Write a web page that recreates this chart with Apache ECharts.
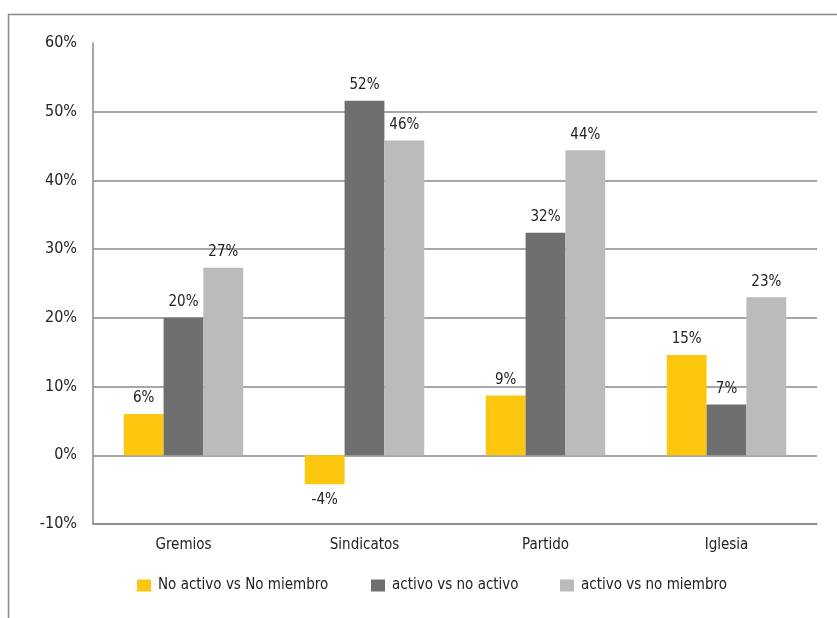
<!DOCTYPE html>
<html>
<head>
<meta charset="utf-8">
<script src="https://cdn.jsdelivr.net/npm/echarts@6/dist/echarts.min.js"></script>
<style>
  html, body { margin: 0; padding: 0; background: #fff; }
  #chart { width: 837px; height: 618px; }
</style>
</head>
<body>
<div id="chart"></div>
<script>
var categories = ['Gremios', 'Sindicatos', 'Partido', 'Iglesia'];
var seriesNames = ['No activo vs No miembro', 'activo vs no activo', 'activo vs no miembro'];
var noActivoVsNoMiembro = [6.0, -4.2, 8.7, 14.6];
var activoVsNoActivo = [20.0, 51.6, 32.4, 7.4];
var activoVsNoMiembro = [27.3, 45.8, 44.4, 23.0];
var colors = ['#fcc70e', '#6f6f6f', '#bbbbbb'];

var FONT = '"DejaVu Sans Condensed", "Liberation Sans Narrow", sans-serif';

var chart = echarts.init(document.getElementById('chart'));

function makeSeries(name, data, color) {
    return {
        name: name,
        type: 'bar',
        barGap: '0%',
        barCategoryGap: '34%',
        itemStyle: { color: color },
        label: {
            show: true,
            position: 'top',
            distance: 8,
            fontFamily: FONT,
            fontSize: 15,
            color: '#222',
            formatter: function (p) { return Math.round(p.value) + '%'; }
        },
        // negative bar label goes below the bar
        data: data.map(function (v) {
            if (v < 0) return { value: v, label: { position: 'bottom' } };
            return v;
        })
    };
}

var series = [
    makeSeries(seriesNames[0], noActivoVsNoMiembro, colors[0]),
    makeSeries(seriesNames[1], activoVsNoActivo, colors[1]),
    makeSeries(seriesNames[2], activoVsNoMiembro, colors[2])
];

var legendLefts = [132, 366, 555];
var legends = seriesNames.map(function (n, i) {
    return {
        data: [n],
        left: legendLefts[i],
        top: 573,
        itemWidth: 14,
        itemHeight: 12,
        itemGap: 0,
        icon: 'rect',
        textStyle: { fontFamily: FONT, fontSize: 15, color: '#222', padding: [0, 0, 0, 2] }
    };
});

var option = {
    animation: false,
    backgroundColor: '#fff',
    textStyle: { fontFamily: FONT },
    graphic: [{
        type: 'polyline',
        shape: { points: [[8.5, 618], [8.5, 14.5], [837, 14.5]] },
        style: { stroke: '#8a8a8a', lineWidth: 1.5, fill: null }
    }],
    legend: legends,
    grid: { left: 93, right: 20, top: 43, bottom: 94 },
    xAxis: {
        type: 'category',
        data: categories,
        position: 'bottom',
        axisLine: { onZero: false, lineStyle: { color: '#8a8a8a', width: 1.5 } },
        axisTick: { show: false },
        axisLabel: { fontFamily: FONT, fontSize: 15, color: '#222', margin: 14 }
    },
    yAxis: {
        type: 'value',
        min: -10,
        max: 60,
        interval: 10,
        axisLine: { show: true, lineStyle: { color: '#8a8a8a', width: 1.5 } },
        axisTick: { show: false },
        axisLabel: {
            fontFamily: FONT, fontSize: 16, color: '#222', margin: 16,
            formatter: '{value}%'
        },
        splitLine: {
            show: true,
            showMaxLine: false,
            lineStyle: { color: '#8a8a8a', width: 1.5 }
        }
    },
    series: series
};

chart.setOption(option);
</script>
</body>
</html>
